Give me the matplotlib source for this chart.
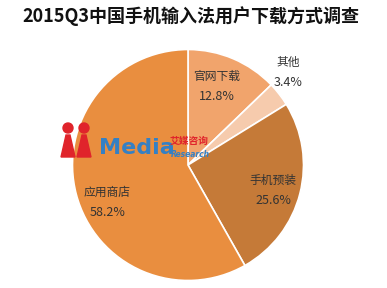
import matplotlib.pyplot as plt
import matplotlib.patches as mpatches
import numpy as np

plt.rcParams['font.family'] = ['Noto Sans CJK SC', 'DejaVu Sans']

title = '2015Q3中国手机输入法用户下载方式调查'
categories = ['官网下载', '其他', '手机预装', '应用商店']
shares = [12.8, 3.4, 25.6, 58.2]
colors = ['#F1A46C', '#F6CBAD', '#C57A38', '#E98E3F']

fig = plt.figure(figsize=(3.87, 2.88), dpi=100)
ax = fig.add_axes([0, 0, 1, 1])

# pie in pixel coordinates (y up)
cx, cy, r = 188, 123, 115.5
wedges, _ = ax.pie(shares, colors=colors, startangle=90, counterclock=False,
                   center=(cx, cy), radius=r, frame=True,
                   wedgeprops=dict(edgecolor='white', linewidth=1.2))
ax.set_xlim(0, 387)
ax.set_ylim(0, 288)
ax.set_aspect('equal')
ax.axis('off')

# label distance as a fraction of the radius, per slice
label_r = [0.72, 1.18, 0.77, 0.77]
angle_shift = [3, 5, -2, 10]
for w, name, val, lr, da in zip(wedges, categories, shares, label_r, angle_shift):
    mid = np.deg2rad((w.theta1 + w.theta2) / 2 + da)
    x = cx + lr * r * np.cos(mid)
    y = cy + lr * r * np.sin(mid)
    ax.text(x, y + 10, name, ha='center', va='center', fontsize=8.5, color='#333333')
    ax.text(x, y - 10, f'{val}%', ha='center', va='center', fontsize=9, color='#333333')

ax.text(191, 272, title, ha='center', va='center', fontsize=13,
        fontweight='bold', color='#111111')

# iiMedia watermark
red = '#E0242B'
blue = '#3580C4'
for hx in (68, 84):
    ax.add_patch(mpatches.Circle((hx, 160), 5, color=red, zorder=5))
    ax.add_patch(mpatches.Polygon([[hx - 7, 131], [hx + 7, 131], [hx + 2, 153], [hx - 2, 153]],
                                  closed=True, color=red, zorder=5))
ax.text(99, 140, 'Media', fontsize=16, fontweight='bold', color=blue,
        ha='left', va='center', family='DejaVu Sans', zorder=6)
ax.text(170, 147.5, '艾媒咨询', fontsize=7, fontweight='bold', color=red,
        ha='left', va='center', style='italic', zorder=6)
ax.text(171, 133.5, 'Research', fontsize=5.5, fontweight='bold', color=blue,
        ha='left', va='center', style='italic', family='DejaVu Sans', zorder=6)

fig.savefig('out.png', dpi=100)
